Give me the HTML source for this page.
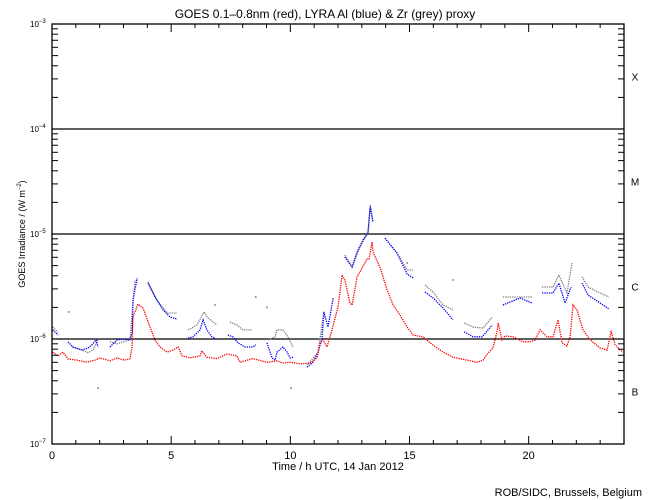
<!DOCTYPE html>
<html><head><meta charset="utf-8"><style>
body{margin:0;background:#fff;}
svg{display:block;font-family:"Liberation Sans",sans-serif;}
</style></head><body>
<svg id="chart" width="650" height="500" viewBox="0 0 650 500" xmlns="http://www.w3.org/2000/svg">
<rect x="0" y="0" width="650" height="500" fill="#fff"/>
<text x="325" y="18" font-size="12" text-anchor="middle">GOES 0.1–0.8nm (red), LYRA Al (blue) &amp; Zr (grey) proxy</text>
<g id="grid"></g><g id="series"></g><g id="axes"></g>
<text x="338" y="470" font-size="11" text-anchor="middle">Time / h UTC, 14 Jan 2012</text>
<text transform="translate(25,234) rotate(-90)" font-size="9" text-anchor="middle">GOES Irradiance / (W m<tspan font-size="6" dy="-4">−2</tspan><tspan dy="4">)</tspan></text>
<text x="642" y="496" font-size="11" text-anchor="end">ROB/SIDC, Brussels, Belgium</text>
</svg>
<script>
// values in units of 1e-6 W/m^2; null = gap
const redHours=[0.03,0.25,0.46,0.67,1.05,1.47,1.8,2.01,2.43,2.73,3.02,3.27,3.36,3.40,3.61,3.82,4.11,4.32,4.53,4.83,5.08,5.29,5.46,5.79,6.21,6.29,6.50,6.92,7.34,7.76,7.89,8.43,9.02,9.44,9.69,9.99,10.41,10.83,11.12,11.25,11.37,11.54,11.75,12.0,12.17,12.29,12.5,12.59,12.8,13.01,13.22,13.3,13.43,13.47,13.76,14.06,14.31,14.6,14.9,15.15,15.57,15.86,16.16,16.41,16.83,17.42,17.83,18.09,18.3,18.5,18.67,18.72,18.88,19.01,19.35,19.77,20.06,20.27,20.48,20.77,21.02,21.23,21.4,21.61,21.74,21.86,22.03,22.28,22.58,23.0,23.29,23.46,23.63,23.84,23.96];
const redValues=[0.75,0.69,0.75,0.645,0.63,0.60,0.63,0.66,0.62,0.66,0.63,0.645,0.84,1.62,2.15,1.97,1.30,0.98,0.84,0.75,0.785,0.84,0.69,0.66,0.69,0.77,0.67,0.65,0.72,0.69,0.60,0.65,0.60,0.62,0.59,0.60,0.58,0.59,0.66,0.92,0.98,0.84,1.22,2.02,4.07,3.65,2.2,2.11,3.9,4.74,5.78,5.78,8.4,6.74,4.85,2.93,2.11,1.69,1.30,1.09,1.05,0.92,0.82,0.75,0.67,0.63,0.60,0.63,0.735,0.82,1.17,1.42,0.98,1.07,1.05,0.94,0.94,0.98,1.22,1.05,1.05,1.52,0.92,0.86,1.05,2.11,1.89,1.22,0.98,0.82,0.785,1.17,0.88,0.785,0.75];
const blueHours=[0.03,0.25,null,0.67,0.88,1.26,1.51,1.68,1.85,1.93,null,2.43,2.73,2.98,3.27,3.36,3.40,3.57,null,4.03,4.32,4.66,4.95,5.24,null,5.71,5.92,6.21,6.34,6.50,6.71,6.88,null,7.38,7.59,7.80,8.10,8.43,8.55,null,9.02,9.23,9.36,9.44,9.69,9.86,9.99,10.11,null,10.70,10.95,11.16,11.33,11.41,11.58,11.8,null,12.29,12.59,12.8,13.05,13.26,13.35,13.47,null,13.97,14.48,14.9,15.15,null,15.65,15.99,16.41,16.83,null,17.29,17.67,18.05,18.47,null,18.92,19.22,19.64,20.14,null,20.56,21.02,21.27,21.53,21.78,null,22.24,22.49,23.0,23.37,null,23.92];
const blueValues=[1.22,1.09,null,0.94,0.84,0.785,0.82,0.88,0.98,0.84,null,0.84,0.98,1.0,0.98,1.14,2.35,3.81,null,3.4,2.51,1.89,1.62,1.55,null,1.02,1.05,1.22,1.52,1.22,1.05,1.0,null,1.09,1.05,0.92,0.84,0.84,0.88,null,0.92,0.66,0.63,0.75,0.84,0.75,0.66,0.67,null,0.54,0.60,0.75,1.0,1.81,1.30,2.46,null,6.04,4.85,6.74,8.76,10.2,18.1,13.0,null,9.15,6.57,4.16,3.81,null,2.8,2.46,1.97,1.52,null,1.17,1.05,1.05,1.36,null,2.11,2.25,2.46,2.2,null,2.74,2.74,3.41,2.2,3.13,null,3.41,2.62,2.2,1.93,null,1.77];
const greyHours=[0.03,0.25,null,0.84,1.17,1.51,1.72,1.93,null,2.43,2.73,2.98,3.27,3.48,null,4.03,4.40,4.83,5.24,null,5.71,6.08,6.38,6.55,6.92,null,7.47,7.76,8.01,8.43,null,9.06,9.36,9.44,9.69,9.90,10.11,null,10.70,11.16,11.41,null,12.29,12.59,12.92,13.26,13.35,13.47,null,13.97,14.48,14.9,15.15,null,15.65,15.99,16.41,16.83,null,17.29,17.67,18.09,18.47,null,18.92,19.35,20.14,null,20.56,21.02,21.27,21.61,21.82,null,22.24,22.49,23.0,23.37,null,23.92];
const greyValues=[1.3,1.15,null,0.84,0.80,0.74,0.785,0.98,null,0.94,0.90,0.94,0.98,3.65,null,3.5,2.35,1.77,1.77,null,1.22,1.36,1.81,1.58,1.36,null,1.45,1.36,1.22,1.22,null,0.98,1.05,1.22,1.22,1.05,0.84,null,0.565,0.74,1.81,null,6.3,4.85,7.5,10.4,18.9,13.0,null,9.15,6.57,4.54,4.54,null,3.27,2.8,2.11,1.89,null,1.42,1.30,1.27,1.62,null,2.51,2.51,2.51,null,3.13,3.13,4.07,2.74,5.3,null,3.9,3.13,2.74,2.51,null,2.62];
const greyDotHours=[0.7,1.93,6.84,8.55,9.02,10.03,14.9,16.83];
const greyDotValues=[1.81,0.34,2.11,2.51,2.0,0.34,5.3,3.65];
const xTicks=[0,5,10,15,20];
const yTickExps=[-3,-4,-5,-6,-7];
const classLabels=["X","M","C","B"];

const NS="http://www.w3.org/2000/svg";
const L=52,R=624,T=24,B=444;
const xs=h=>L+(h/24)*(R-L);
const ys=v=>T+(-3-Math.log10(v*1e-6))*(B-T)/4;
function mk(tag,attrs,parent){const e=document.createElementNS(NS,tag);for(const k in attrs)e.setAttribute(k,attrs[k]);parent.appendChild(e);return e;}
const grid=document.getElementById('grid'),ser=document.getElementById('series'),ax=document.getElementById('axes');
[-4,-5,-6].forEach(e=>{const y=ys(Math.pow(10,e+6));
const ln=mk('line',{x1:L,x2:R,y1:y,y2:y,stroke:'#000','stroke-width':1.3},grid);

});
function drawSeries(hours,vals,color,name){let seg=[];const flush=()=>{if(seg.length>1){const p=mk('polyline',{points:seg.join(' '),fill:'none',stroke:color,'stroke-width':1.3,'stroke-dasharray':'1.3 1'},ser);

}seg=[];};
for(let i=0;i<hours.length;i++){if(hours[i]===null||vals[i]===null){flush();continue;}seg.push(xs(hours[i]).toFixed(1)+','+ys(vals[i]).toFixed(1));}flush();}
drawSeries(greyHours,greyValues,'#808080','zr-proxy-series');
drawSeries(blueHours,blueValues,'#0000ff','al-proxy-series');
drawSeries(redHours,redValues,'#ff0000','goes-series');
greyDotHours.forEach((h,i)=>{const c=mk('rect',{x:xs(h)-0.8,y:ys(greyDotValues[i])-0.8,width:1.6,height:1.6,fill:'#808080'},ser);

});
const fr=mk('rect',{x:L,y:T,width:R-L,height:B-T,fill:'none',stroke:'#000','stroke-width':1.3},ax);


for(let h=0;h<=24;h++){const x=xs(h),len=h%5===0?8:4;
mk('line',{x1:x,x2:x,y1:B,y2:B-len,stroke:'#000'},ax);mk('line',{x1:x,x2:x,y1:T,y2:T+len,stroke:'#000'},ax);}
xTicks.forEach(h=>{const t=mk('text',{x:xs(h),y:B+15,'font-size':11,'text-anchor':'middle'},ax);t.textContent=h;

});
for(let e=-7;e<-3;e++)for(let m=2;m<=9;m++){const y=ys(m*Math.pow(10,e+6));
mk('line',{x1:L,x2:L+6,y1:y,y2:y,stroke:'#000'},ax);mk('line',{x1:R,x2:R-6,y1:y,y2:y,stroke:'#000'},ax);}
yTickExps.forEach(e=>{const y=ys(Math.pow(10,e+6));
mk('line',{x1:L,x2:L+10,y1:y,y2:y,stroke:'#000'},ax);mk('line',{x1:R,x2:R-10,y1:y,y2:y,stroke:'#000'},ax);
const t=mk('text',{x:30,y:y+3,'font-size':8},ax);


t.innerHTML='10<tspan font-size="6" dy="-4">'+e.toString().replace('-','−')+'</tspan>';});
classLabels.forEach((c,i)=>{const y=ys(Math.pow(10,-3-i+6)/Math.sqrt(10));
const t=mk('text',{x:635,y:y+4,'font-size':10,'text-anchor':'middle'},ax);t.textContent=c;

});
</script>
</body></html>
